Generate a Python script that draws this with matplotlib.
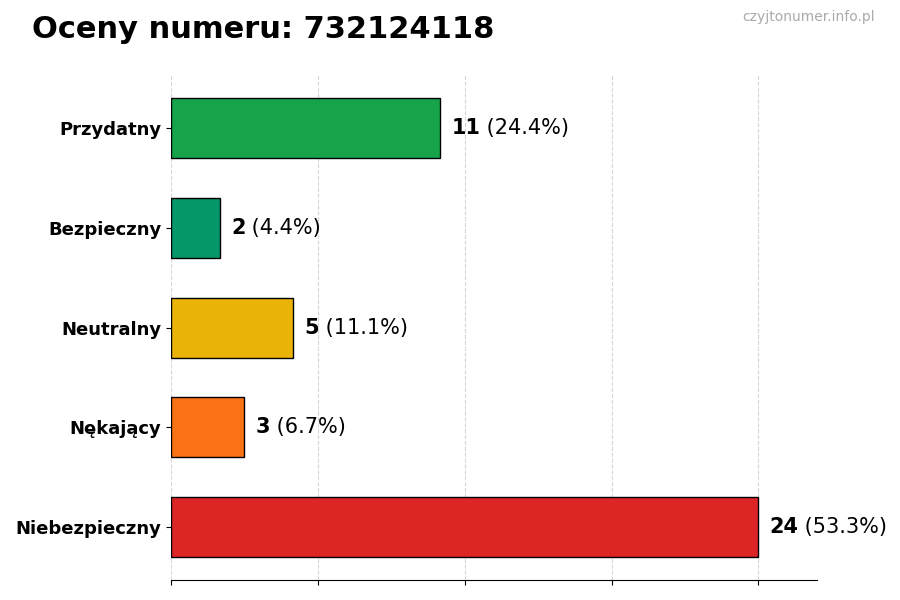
import matplotlib
matplotlib.use("Agg")
import matplotlib.pyplot as plt

categories = ["Przydatny", "Bezpieczny", "Neutralny", "Nękający", "Niebezpieczny"]
values = [11, 2, 5, 3, 24]
percents = ["24.4%", "4.4%", "11.1%", "6.7%", "53.3%"]
colors = ["#16a34a", "#059669", "#eab308", "#f97316", "#dc2626"]

fig = plt.figure(figsize=(9, 6), dpi=100)
ax = fig.add_axes([0.19, 0.033, 0.718, 0.842])
y = list(range(len(categories)))
ax.barh(y, values, height=0.6, color=colors, edgecolor="black", linewidth=1, zorder=3)
ax.set_yticks(y)
ax.set_yticklabels(categories, fontsize=13, fontweight="bold")
ax.set_ylim(len(categories) - 0.47, -0.53)
ax.set_xlim(0, max(values) * 1.1)
ax.set_xticks([0, 6, 12, 18, 24])
ax.set_xticklabels([])
ax.grid(axis="x", linestyle="--", color="#cccccc", alpha=0.8, zorder=0)
for s in ["top", "right", "left"]:
    ax.spines[s].set_visible(False)

for yi, v, p in zip(y, values, percents):
    t = ax.text(v + 0.45, yi, str(v), va="center", ha="left", fontsize=15, fontweight="bold")
    ax.annotate(f" ({p})", xy=(1, 0.5), xycoords=t, va="center", ha="left", fontsize=15)

fig.text(0.036, 0.95, "Oceny numeru: 732124118", fontsize=22, fontweight="bold", va="center")
fig.text(0.972, 0.972, "czyjtonumer.info.pl", fontsize=10, color="#aaaaaa", ha="right", va="center")
fig.savefig("out.png", dpi=100)
